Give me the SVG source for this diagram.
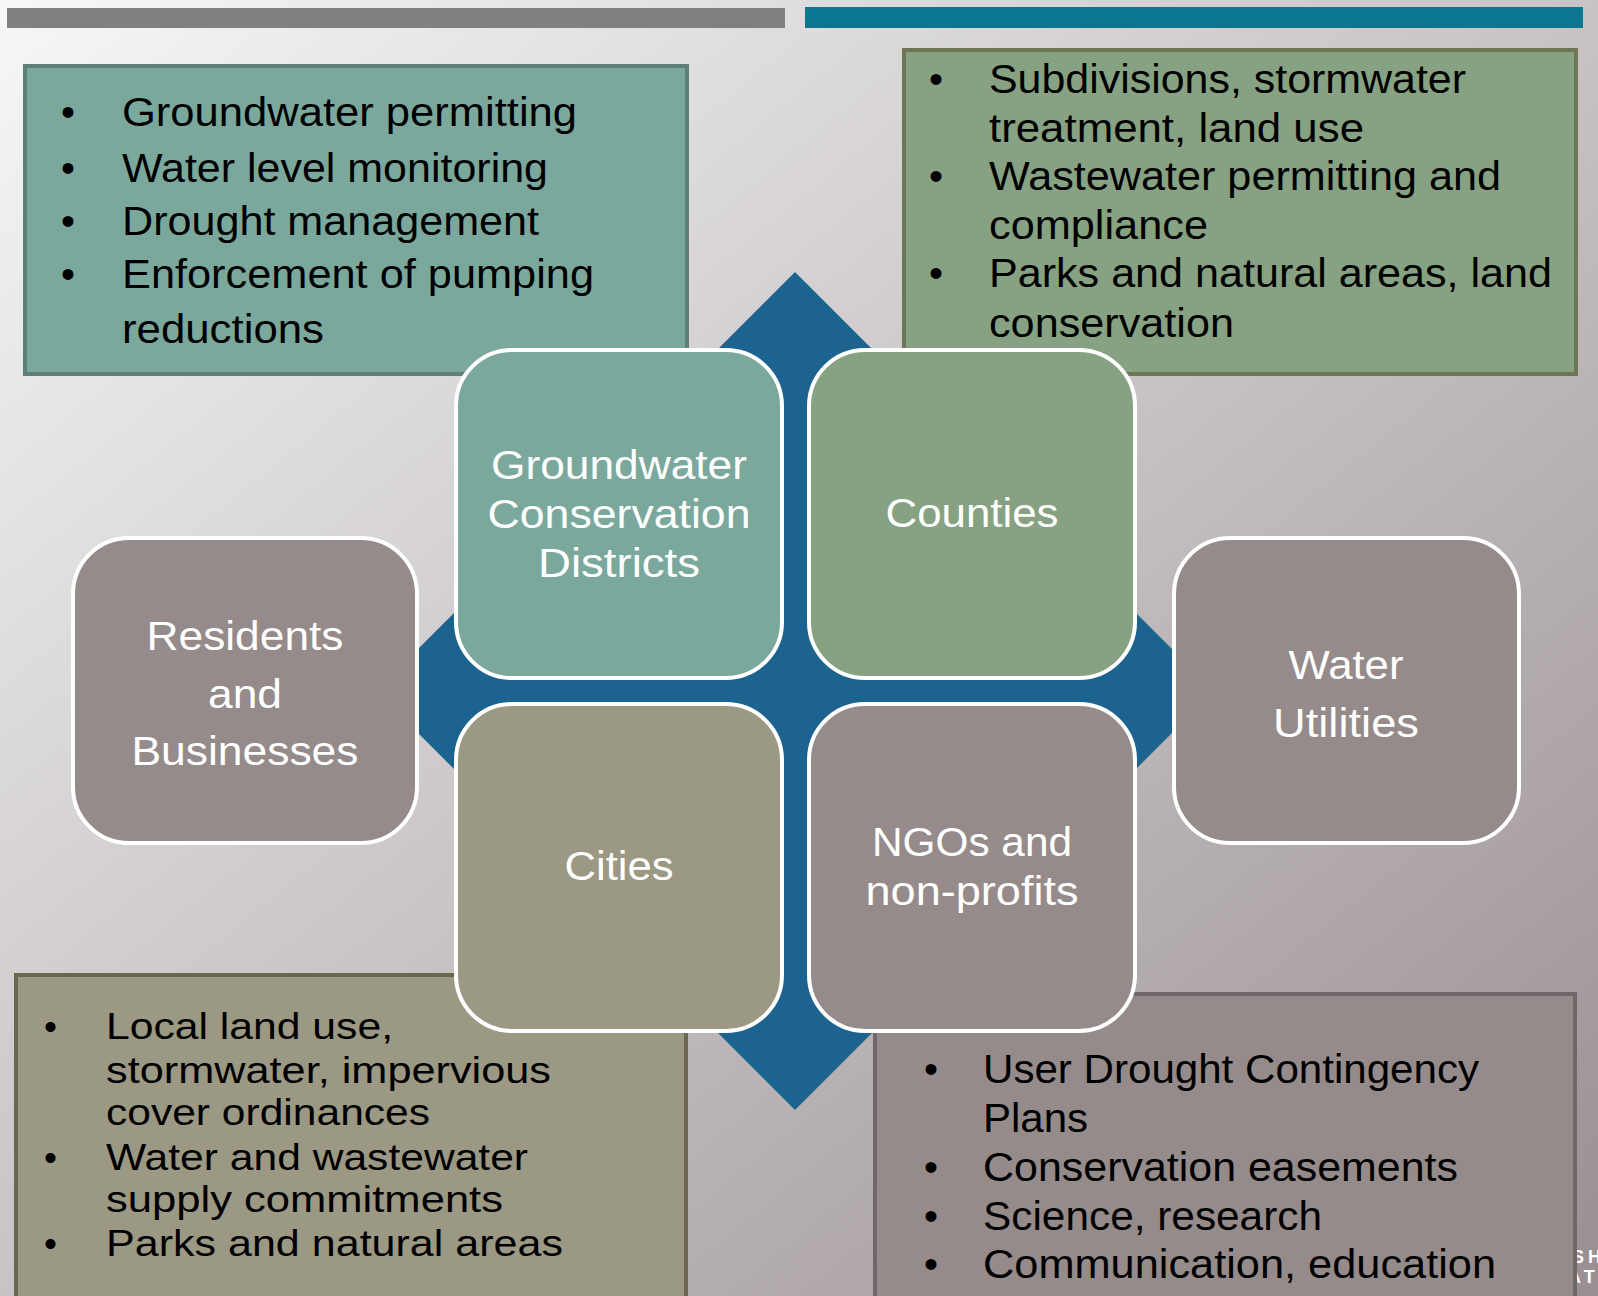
<svg xmlns="http://www.w3.org/2000/svg" width="1598" height="1296" viewBox="0 0 1598 1296">
<defs>
<linearGradient id="bg" x1="0" y1="0" x2="1" y2="1">
<stop offset="0" stop-color="#f7f7f7"/>
<stop offset="1" stop-color="#998f91"/>
</linearGradient>
<style>
.lt{font-family:"Liberation Sans",Arial,sans-serif;font-size:40px;fill:#000}
.lb{font-family:"Liberation Sans",Arial,sans-serif;font-size:37px;fill:#000}
.nt{font-family:"Liberation Sans",Arial,sans-serif;font-size:41px;fill:#fff;text-anchor:middle}
.node{stroke:#fff;stroke-width:4}
.list{stroke-width:4}
.teal{fill:#7ba89c}
.green{fill:#86a282}
.olive{fill:#9b9884}
.mauve{fill:#958b8a}
</style>
</defs>
<rect x="0" y="0" width="1598" height="1296" fill="url(#bg)"/>
<g id="top-bars">
<rect x="7" y="8" width="778" height="20" fill="#808080"/>
<rect x="805" y="7" width="778" height="21" fill="#0b7690"/>
</g>
<text x="1572" y="1263" font-family="'Liberation Sans',Arial,sans-serif" font-size="18" font-weight="bold" fill="#fff" letter-spacing="4">SH</text>
<text x="1568" y="1283" font-family="'Liberation Sans',Arial,sans-serif" font-size="18" font-weight="bold" fill="#fff" letter-spacing="4">AT</text>
<g id="list-gcd">
<rect class="list teal" x="25" y="66" width="662" height="308" stroke="#5f8078"/>
<text class="lt" x="61" y="126">•</text>
<text class="lt" x="61" y="182">•</text>
<text class="lt" x="61" y="235">•</text>
<text class="lt" x="61" y="288">•</text>
<text class="lt" x="122" y="126" textLength="455" lengthAdjust="spacingAndGlyphs">Groundwater permitting</text>
<text class="lt" x="122" y="182" textLength="426" lengthAdjust="spacingAndGlyphs">Water level monitoring</text>
<text class="lt" x="122" y="235" textLength="417" lengthAdjust="spacingAndGlyphs">Drought management</text>
<text class="lt" x="122" y="288" textLength="472" lengthAdjust="spacingAndGlyphs">Enforcement of pumping</text>
<text class="lt" x="122" y="343" textLength="202" lengthAdjust="spacingAndGlyphs">reductions</text>
</g>
<g id="list-counties">
<rect class="list green" x="904" y="50" width="672" height="324" stroke="#6e7658"/>
<text class="lt" x="929" y="93">•</text>
<text class="lt" x="929" y="190">•</text>
<text class="lt" x="929" y="287">•</text>
<text class="lt" x="989" y="93" textLength="477" lengthAdjust="spacingAndGlyphs">Subdivisions, stormwater</text>
<text class="lt" x="989" y="142" textLength="375" lengthAdjust="spacingAndGlyphs">treatment, land use</text>
<text class="lt" x="989" y="190" textLength="512" lengthAdjust="spacingAndGlyphs">Wastewater permitting and</text>
<text class="lt" x="989" y="239" textLength="219" lengthAdjust="spacingAndGlyphs">compliance</text>
<text class="lt" x="989" y="287" textLength="563" lengthAdjust="spacingAndGlyphs">Parks and natural areas, land</text>
<text class="lt" x="989" y="337" textLength="245" lengthAdjust="spacingAndGlyphs">conservation</text>
</g>
<g id="list-cities">
<rect class="list olive" x="16" y="975" width="670" height="340" stroke="#6b6650"/>
<text class="lb" x="44" y="1039">•</text>
<text class="lb" x="44" y="1170">•</text>
<text class="lb" x="44" y="1256">•</text>
<text class="lb" x="106" y="1039" textLength="287" lengthAdjust="spacingAndGlyphs">Local land use,</text>
<text class="lb" x="106" y="1083" textLength="445" lengthAdjust="spacingAndGlyphs">stormwater, impervious</text>
<text class="lb" x="106" y="1125" textLength="324" lengthAdjust="spacingAndGlyphs">cover ordinances</text>
<text class="lb" x="106" y="1170" textLength="422" lengthAdjust="spacingAndGlyphs">Water and wastewater</text>
<text class="lb" x="106" y="1212" textLength="397" lengthAdjust="spacingAndGlyphs">supply commitments</text>
<text class="lb" x="106" y="1256" textLength="457" lengthAdjust="spacingAndGlyphs">Parks and natural areas</text>
</g>
<g id="list-ngos">
<rect class="list mauve" x="875" y="994" width="700" height="330" stroke="#6f6769"/>
<text class="lt" x="924" y="1083">•</text>
<text class="lt" x="924" y="1181">•</text>
<text class="lt" x="924" y="1230">•</text>
<text class="lt" x="924" y="1278">•</text>
<text class="lt" x="983" y="1083" textLength="496" lengthAdjust="spacingAndGlyphs">User Drought Contingency</text>
<text class="lt" x="983" y="1132" textLength="105" lengthAdjust="spacingAndGlyphs">Plans</text>
<text class="lt" x="983" y="1181" textLength="475" lengthAdjust="spacingAndGlyphs">Conservation easements</text>
<text class="lt" x="983" y="1230" textLength="339" lengthAdjust="spacingAndGlyphs">Science, research</text>
<text class="lt" x="983" y="1278" textLength="513" lengthAdjust="spacingAndGlyphs">Communication, education</text>
</g>
<g id="connectors">
<polygon points="795,272 1214,691 795,1110 376,691" fill="#1c648f"/>
</g>
<g id="node-gcd">
<rect class="node teal" x="456" y="350" width="326" height="328" rx="56"/>
<text class="nt" x="619" y="479" textLength="256" lengthAdjust="spacingAndGlyphs">Groundwater</text>
<text class="nt" x="619" y="528" textLength="263" lengthAdjust="spacingAndGlyphs">Conservation</text>
<text class="nt" x="619" y="577" textLength="162" lengthAdjust="spacingAndGlyphs">Districts</text>
</g>
<g id="node-counties">
<rect class="node green" x="809" y="350" width="326" height="328" rx="56"/>
<text class="nt" x="972" y="527" textLength="173" lengthAdjust="spacingAndGlyphs">Counties</text>
</g>
<g id="node-cities">
<rect class="node olive" x="456" y="704" width="326" height="327" rx="56"/>
<text class="nt" x="619" y="880" textLength="109" lengthAdjust="spacingAndGlyphs">Cities</text>
</g>
<g id="node-ngos">
<rect class="node mauve" x="809" y="704" width="326" height="327" rx="56"/>
<text class="nt" x="972" y="856" textLength="200" lengthAdjust="spacingAndGlyphs">NGOs and</text>
<text class="nt" x="972" y="905" textLength="213" lengthAdjust="spacingAndGlyphs">non-profits</text>
</g>
<g id="node-residents">
<rect class="node mauve" x="73" y="538" width="344" height="305" rx="56"/>
<text class="nt" x="245" y="650" textLength="197" lengthAdjust="spacingAndGlyphs">Residents</text>
<text class="nt" x="245" y="708" textLength="74" lengthAdjust="spacingAndGlyphs">and</text>
<text class="nt" x="245" y="765" textLength="227" lengthAdjust="spacingAndGlyphs">Businesses</text>
</g>
<g id="node-utilities">
<rect class="node mauve" x="1174" y="538" width="345" height="305" rx="56"/>
<text class="nt" x="1346" y="679" textLength="115" lengthAdjust="spacingAndGlyphs">Water</text>
<text class="nt" x="1346" y="737" textLength="146" lengthAdjust="spacingAndGlyphs">Utilities</text>
</g>
</svg>
